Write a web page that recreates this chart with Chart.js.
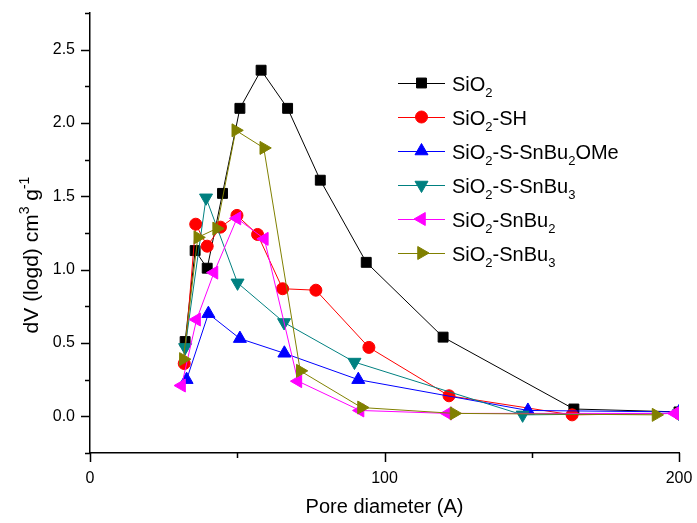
<!DOCTYPE html>
<html>
<head>
<meta charset="utf-8">
<title>Pore size distribution</title>
<script src="https://cdn.jsdelivr.net/npm/chart.js@4.4.1/dist/chart.umd.min.js"></script>
<style>
  body { margin: 0; background: #fff; }
  canvas { display: block; }
</style>
</head>
<body>
<canvas id="poreChart" width="697" height="523"></canvas>
<script>
// series names, "_{..}" = subscript
const seriesNames = ['SiO_{2}', 'SiO_{2}-SH', 'SiO_{2}-S-SnBu_{2}OMe', 'SiO_{2}-S-SnBu_{3}', 'SiO_{2}-SnBu_{2}', 'SiO_{2}-SnBu_{3}'];
const seriesColors = ['#000000', '#ff0000', '#0000ff', '#008080', '#ff00ff', '#808000'];

// pore diameter (A) / dV(logd)
const sio2X = [32.3, 35.7, 39.8, 45.0, 50.9, 58.1, 67.1, 78.2, 93.8, 119.9, 164.3, 200];
const sio2Y = [0.51, 1.13, 1.01, 1.52, 2.10, 2.36, 2.10, 1.61, 1.05, 0.54, 0.05, 0.03];

const shX = [32.0, 35.9, 39.8, 44.3, 49.9, 56.9, 65.4, 76.7, 94.7, 121.9, 163.7, 200];
const shY = [0.36, 1.31, 1.16, 1.29, 1.37, 1.24, 0.87, 0.86, 0.47, 0.14, 0.01, 0.02];

const ssnOMeX = [32.8, 40.2, 50.9, 66.0, 91.1, 148.7, 200];
const ssnOMeY = [0.25, 0.70, 0.53, 0.43, 0.25, 0.04, 0.03];

const ssnBu3X = [32.3, 39.4, 50.1, 65.9, 89.8, 146.9, 200];
const ssnBu3Y = [0.47, 1.49, 0.91, 0.64, 0.37, 0.01, 0.02];

const snBu2X = [31.1, 36.2, 42.1, 49.9, 59.2, 70.6, 91.7, 121.5, 198.6];
const snBu2Y = [0.21, 0.66, 0.98, 1.35, 1.21, 0.24, 0.04, 0.02, 0.02];

const snBu3X = [31.7, 36.6, 43.0, 49.5, 59.0, 71.4, 92.2, 123.6, 192.2];
const snBu3Y = [0.39, 1.22, 1.28, 1.95, 1.83, 0.31, 0.06, 0.02, 0.01];

const xMajor = [0, 100, 200];
const xMinor = [50, 150];
const yMajor = [0, 0.5, 1.0, 1.5, 2.0, 2.5];
const yMinor = [-0.25, 0.25, 0.75, 1.25, 1.75, 2.25, 2.75];

const allX = [sio2X, shX, ssnOMeX, ssnBu3X, snBu2X, snBu3X];
const allY = [sio2Y, shY, ssnOMeY, ssnBu3Y, snBu2Y, snBu3Y];

// marker per series
const markers = [
  { pointStyle: 'rect', radius: 7, rotation: 0 },
  { pointStyle: 'circle', radius: 6, rotation: 0 },
  { pointStyle: 'triangle', radius: 7.5, rotation: 0 },
  { pointStyle: 'triangle', radius: 7.5, rotation: 180 },
  { pointStyle: 'triangle', radius: 7.5, rotation: 270 },
  { pointStyle: 'triangle', radius: 7.5, rotation: 90 }
];

const FONT = '"Liberation Sans", Arial, Helvetica, sans-serif';

function parseRich(str) {
  const parts = [];
  const re = /([_^])\{([^}]*)\}/g;
  let last = 0, m;
  while ((m = re.exec(str))) {
    if (m.index > last) parts.push({ t: str.slice(last, m.index), k: '' });
    parts.push({ t: m[2], k: m[1] });
    last = re.lastIndex;
  }
  if (last < str.length) parts.push({ t: str.slice(last), k: '' });
  return parts;
}

// text with sub/superscripts, y = baseline
function drawRich(ctx, str, x, y, size, align) {
  const parts = parseRich(str);
  const small = Math.round(size * 0.65);
  const fontOf = k => (k ? small : size) + 'px ' + FONT;
  let w = 0;
  parts.forEach(p => { ctx.font = fontOf(p.k); p.w = ctx.measureText(p.t).width; w += p.w; });
  let cx = align === 'center' ? x - w / 2 : x;
  ctx.textAlign = 'left';
  ctx.textBaseline = 'alphabetic';
  parts.forEach(p => {
    ctx.font = fontOf(p.k);
    const dy = p.k === '_' ? size * 0.3 : (p.k === '^' ? -size * 0.45 : 0);
    ctx.fillText(p.t, cx, y + dy);
    cx += p.w;
  });
}

const datasets = seriesNames.map((name, i) => ({
  label: name,
  data: allX[i].map((v, j) => ({ x: v, y: allY[i][j] })),
  borderColor: seriesColors[i],
  backgroundColor: seriesColors[i],
  pointBackgroundColor: seriesColors[i],
  pointBorderColor: seriesColors[i],
  borderWidth: 1,
  pointBorderWidth: 1,
  pointStyle: markers[i].pointStyle,
  pointRadius: markers[i].radius,
  pointRotation: markers[i].rotation,
  tension: 0,
  fill: false,
  order: seriesNames.length - i
}));

// outward major/minor ticks, y title and legend
const decorations = {
  id: 'decorations',
  afterDraw(chart) {
    const { ctx, scales: { x, y } } = chart;
    const area = chart.chartArea;
    ctx.save();
    ctx.strokeStyle = '#000';
    ctx.lineWidth = 1.5;
    ctx.beginPath();
    xMajor.concat(xMinor).forEach(v => {
      const px = Math.round(x.getPixelForValue(v)) + 0.5;
      const len = xMajor.includes(v) ? 9 : 5;
      ctx.moveTo(px, area.bottom);
      ctx.lineTo(px, area.bottom + len);
    });
    yMajor.concat(yMinor).forEach(v => {
      const py = Math.round(y.getPixelForValue(v)) + 0.5;
      const len = yMajor.includes(v) ? 9 : 5;
      ctx.moveTo(area.left, py);
      ctx.lineTo(area.left - len, py);
    });
    ctx.stroke();

    // y axis title
    ctx.fillStyle = '#000';
    ctx.save();
    ctx.translate(38, (area.top + area.bottom) / 2 + 22);
    ctx.rotate(-Math.PI / 2);
    drawRich(ctx, 'dV (logd) cm^{3} g^{-1}', 0, 0, 21, 'center');
    ctx.restore();

    // legend
    const lx0 = 398, lx1 = 445, tx = 452;
    seriesNames.forEach((name, i) => {
      const ry = 83 + i * 34;
      ctx.strokeStyle = seriesColors[i];
      ctx.fillStyle = seriesColors[i];
      ctx.lineWidth = 1;
      ctx.beginPath();
      ctx.moveTo(lx0, ry + 0.5);
      ctx.lineTo(lx1, ry + 0.5);
      ctx.stroke();
      Chart.helpers.drawPoint(ctx, {
        pointStyle: markers[i].pointStyle,
        rotation: markers[i].rotation,
        radius: markers[i].radius,
        borderWidth: 1
      }, (lx0 + lx1) / 2, ry);
      ctx.fillStyle = '#000';
      drawRich(ctx, name, tx, ry + 8, 20, 'left');
    });
    ctx.restore();
  }
};

const ctx = document.getElementById('poreChart');
new Chart(ctx, {
  type: 'line',
  data: { datasets: datasets },
  plugins: [decorations],
  options: {
    responsive: false,
    animation: false,
    devicePixelRatio: 1,
    layout: { padding: { top: 13, right: 18, left: 0, bottom: 0 } },
    plugins: {
      legend: { display: false },
      tooltip: { enabled: false }
    },
    scales: {
      x: {
        type: 'linear',
        min: 0,
        max: 200,
        afterBuildTicks: s => { s.ticks = xMajor.map(v => ({ value: v })); },
        afterFit: s => { s.height = 70; s.paddingLeft = 0; s.paddingRight = 0; },
        grid: { display: false, drawTicks: false },
        border: { display: true, color: '#000', width: 1.5 },
        ticks: { color: '#000', padding: 16, maxRotation: 0, font: { family: FONT, size: 16 } },
        title: {
          display: true,
          text: 'Pore diameter (A)',
          color: '#000',
          font: { family: FONT, size: 20 },
          padding: { top: 0, bottom: 4 }
        }
      },
      y: {
        type: 'linear',
        min: -0.25,
        max: 2.75,
        afterBuildTicks: s => { s.ticks = yMajor.map(v => ({ value: v })); },
        afterFit: s => { s.width = 90; s.paddingTop = 0; s.paddingBottom = 0; },
        grid: { display: false, drawTicks: false },
        border: { display: true, color: '#000', width: 1.5 },
        ticks: {
          color: '#000',
          padding: 15,
          font: { family: FONT, size: 16 },
          callback: v => v.toFixed(1)
        }
      }
    }
  }
});
</script>
</body>
</html>
